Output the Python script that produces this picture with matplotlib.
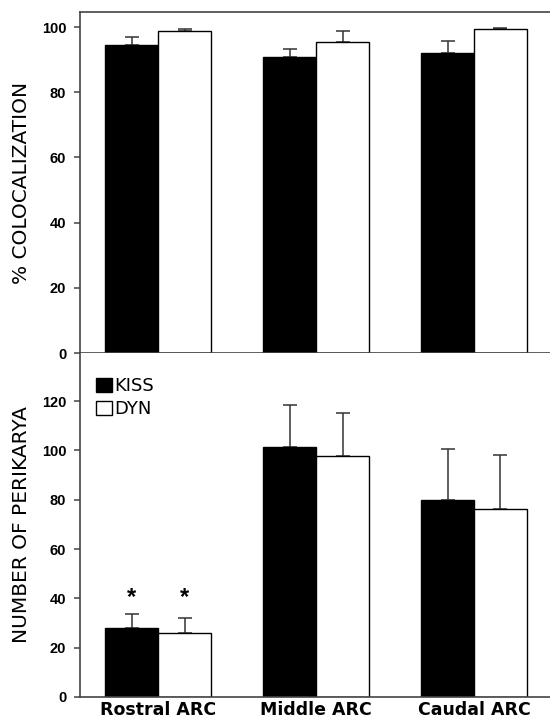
import matplotlib
matplotlib.use("Agg")
import matplotlib.pyplot as plt
from matplotlib.patches import Patch
import numpy as np

plt.rcParams['font.family'] = ['Liberation Sans', 'DejaVu Sans']

categories = ["Rostral ARC", "Middle ARC", "Caudal ARC"]
series = ["KISS", "DYN"]

coloc_kiss = [94.5, 90.7, 91.9]
coloc_kiss_err = [2.3, 2.7, 3.9]
coloc_dyn = [98.8, 95.5, 99.3]
coloc_dyn_err = [0.6, 3.4, 0.5]

peri_kiss = [27.8, 101.5, 79.9]
peri_kiss_err = [5.8, 16.9, 20.5]
peri_dyn = [26.1, 97.6, 76.1]
peri_dyn_err = [6.1, 17.5, 22.0]

top_ticks = [0, 20, 40, 60, 80, 100]
bottom_ticks = [0, 20, 40, 60, 80, 100, 120]

fig = plt.figure(figsize=(5.5, 7.24), dpi=100)
ax1 = fig.add_axes([0.1455, 0.5124, 0.8545, 0.4710])
ax2 = fig.add_axes([0.1455, 0.0373, 0.8545, 0.4752])

x = np.arange(len(categories))
w = 0.335
LAB = ['DejaVu Sans']

def draw(ax, k, ke, d, de, ylim, ticks):
    for xs, vals, errs in [(x - w/2, k, ke), (x + w/2, d, de)]:
        ax.errorbar(xs, vals, yerr=[np.zeros(len(vals)), errs], fmt='none',
                    ecolor="#333333", elinewidth=1.1, capsize=4.7, capthick=1.1, zorder=1)
    ax.bar(x - w/2, k, w, color="black", edgecolor="black", linewidth=1, zorder=2)
    ax.bar(x + w/2, d, w, color="white", edgecolor="black", linewidth=1, zorder=2)
    ax.set_xlim(-0.494, 2.481)
    ax.set_ylim(*ylim)
    ax.set_yticks(ticks)
    ax.set_yticklabels([str(t) for t in ticks], fontsize=10.5, fontweight="bold")
    ax.spines['right'].set_visible(False)
    for s in ['left', 'top', 'bottom']:
        ax.spines[s].set_color("#444444")
        ax.spines[s].set_linewidth(1.2)
    ax.tick_params(axis='y', direction='out', length=4, width=1.1, color="#444444", pad=6)
    ax.tick_params(axis='x', length=0)

draw(ax1, coloc_kiss, coloc_kiss_err, coloc_dyn, coloc_dyn_err, (0, 104.6), top_ticks)
ax1.set_xticks([])
ax1.set_ylabel("% COLOCALIZATION", fontsize=14.5, family=LAB, labelpad=8)

draw(ax2, peri_kiss, peri_kiss_err, peri_dyn, peri_dyn_err, (0, 139.5), bottom_ticks)
ax2.spines['top'].set_visible(False)
ax2.set_xticks(x)
ax2.set_xticklabels(categories, fontsize=12.5, fontweight="bold", family=LAB)
ax2.tick_params(axis='x', pad=3)
ax2.set_ylabel("NUMBER OF PERIKARYA", fontsize=14.5, family=LAB, labelpad=8)

# significance asterisks over rostral bars
for xi in [x[0] - w/2, x[0] + w/2]:
    ax2.text(xi, 35.5, "*", ha="center", va="bottom", fontsize=17, fontweight="bold")

handles = [Patch(facecolor="black", edgecolor="black", label="KISS"),
           Patch(facecolor="white", edgecolor="black", label="DYN")]
leg = ax2.legend(handles=handles, loc="upper left", bbox_to_anchor=(0.035, 0.93), frameon=False,
                 prop={'family': LAB, 'size': 13}, handlelength=0.85, handleheight=0.85,
                 handletextpad=0.15, labelspacing=0.3, borderaxespad=0, borderpad=0)

fig.savefig("out.png", dpi=100)
